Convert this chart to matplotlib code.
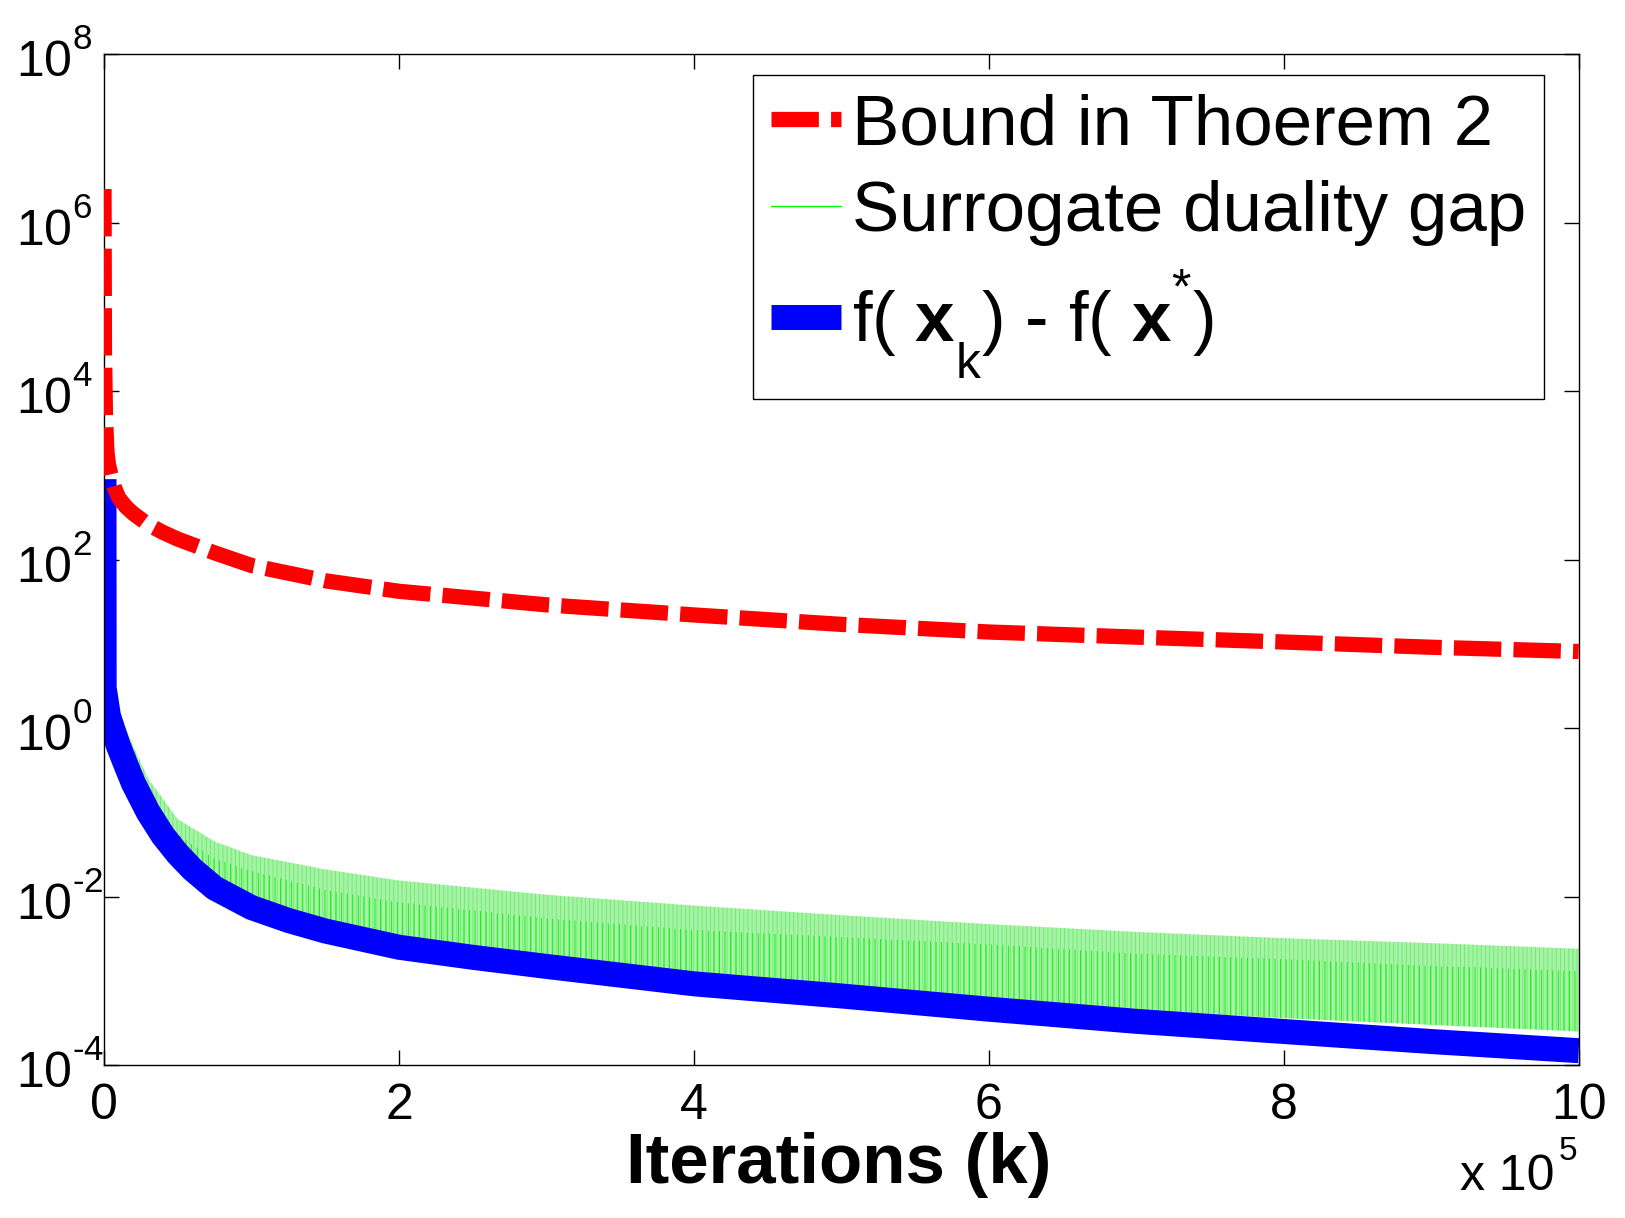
import matplotlib
matplotlib.use("Agg")
import matplotlib.pyplot as plt
from matplotlib.lines import Line2D
from matplotlib.ticker import FixedLocator, FixedFormatter

plt.rcParams['font.family'] = ['Liberation Sans', 'DejaVu Sans']
plt.rcParams['mathtext.fontset'] = 'custom'
plt.rcParams['mathtext.rm'] = 'Liberation Sans'
plt.rcParams['mathtext.it'] = 'Liberation Sans'
plt.rcParams['mathtext.bf'] = 'Liberation Sans:bold'
plt.rcParams['hatch.linewidth'] = 0.6

# Matlab-like sub/superscript offsets (higher exponents, lower subscripts)
try:
    from matplotlib import _mathtext
    _mathtext.FontConstantsBase.sup1 = 1.0
    _mathtext.FontConstantsBase.sub1 = 1.0
except Exception:
    pass

# iterations in units of 1e5
bound_x = [0, 0.003, 0.01, 0.02, 0.03, 0.05, 0.07, 0.1, 0.15, 0.2, 0.3, 0.4, 0.5, 0.75, 1, 1.5,
           2, 3, 4, 5, 6, 7, 8, 9, 10]
bound_y = [2.5e6, 3e4, 5e3, 1.9e3, 1.35e3, 9.5e2, 7.2e2, 5.4e2, 4.2e2, 3.5e2, 2.6e2, 2.1e2,
           1.75e2, 1.2e2, 85, 56, 42, 29, 22, 17, 13.8, 12, 10.5, 9.1, 8.1]

gap_x = [0, 0.002, 0.05, 0.1, 0.2, 0.3, 0.5, 0.75, 1, 1.5, 2, 3, 4, 5, 6, 7, 8, 9, 10]
gap_upper = [2e3, 4, 2.5, 1.6, 0.6, 0.25, 0.083, 0.045, 0.031, 0.021, 0.0155, 0.0105, 0.0078,
             0.006, 0.0047, 0.0038, 0.0032, 0.0028, 0.0024]
gap_core = [1.5e3, 3, 1.8, 1.0, 0.35, 0.15, 0.054, 0.028, 0.02, 0.012, 0.0085, 0.0055, 0.004,
            0.0033, 0.0027, 0.0021, 0.0018, 0.0015, 0.0013]
gap_lower = [9e2, 2, 1.2, 0.6, 0.22, 0.1, 0.032, 0.0126, 0.0078, 0.0042, 0.0028, 0.0017, 0.0011,
             0.00078, 0.00058, 0.00045, 0.00036, 0.0003, 0.00025]

fx_x = [0, 0.001, 0.03, 0.07, 0.1, 0.15, 0.2, 0.3, 0.4, 0.5, 0.6, 0.75, 1, 1.25, 1.5, 2, 2.5,
        3, 4, 5, 6, 7, 8, 9, 10]
fx_y = [9e2, 3, 1.4, 0.85, 0.6, 0.36, 0.22, 0.1, 0.053, 0.032, 0.021, 0.0126, 0.0074, 0.0052,
        0.0039, 0.0025, 0.0019, 0.00148, 0.00092, 0.00066, 0.00046, 0.00033, 0.00025, 0.00019,
        0.000148]

ytick_vals = [1e-4, 1e-2, 1e0, 1e2, 1e4, 1e6, 1e8]
ytick_labels = [r'$\mathregular{10^{\text{-}4}}$', r'$\mathregular{10^{\text{-}2}}$',
                r'$\mathregular{10^{0}}$', r'$\mathregular{10^{2}}$', r'$\mathregular{10^{4}}$',
                r'$\mathregular{10^{6}}$', r'$\mathregular{10^{8}}$']
xtick_vals = [0, 2, 4, 6, 8, 10]
xtick_labels = ['0', '2', '4', '6', '8', '10']

fig = plt.figure(figsize=(16.25, 12.18), dpi=100)
ax = fig.add_axes([0.064, 0.1256, 0.9075, 0.830])
ax.set_yscale('log')

ax.fill_between(gap_x, gap_lower, gap_upper, facecolor='#a8f2a8', edgecolor='#66ee66',
                hatch='||||', linewidth=0, zorder=1)
ax.fill_between(gap_x, gap_lower, gap_core, facecolor='none', edgecolor='#00f000',
                hatch='|||', linewidth=0, zorder=1.5)
ax.plot(fx_x, fx_y, color='#0000ff', lw=18, solid_capstyle='butt', zorder=2)
ax.plot(bound_x, bound_y, color='#ff0000', lw=11, dashes=(3.1, 0.8), dash_capstyle='butt',
        zorder=3)

ax.set_xlim(0, 10)
ax.set_ylim(1e-4, 1e8)
ax.yaxis.set_major_locator(FixedLocator(ytick_vals))
ax.yaxis.set_major_formatter(FixedFormatter(ytick_labels))
ax.yaxis.set_minor_locator(FixedLocator([]))
ax.set_xticks(xtick_vals)
ax.set_xticklabels(xtick_labels)
ax.tick_params(direction='in', length=11, width=1, top=True, right=True, labelsize=36)
ax.tick_params(axis='y', pad=63)
ax.tick_params(axis='x', pad=13)
for lab in ax.get_yticklabels():
    lab.set_horizontalalignment('left')
for s in ax.spines.values():
    s.set_linewidth(1)

ax.set_xlabel('Iterations (k)', fontsize=51, fontweight='bold')
ax.xaxis.set_label_coords(0.4985, -0.066)
ax.text(0.9835, -0.124, 'x 10', transform=ax.transAxes,
        ha='right', va='baseline', fontsize=36)
ax.text(0.9865, -0.0935, '5', transform=ax.transAxes,
        ha='left', va='baseline', fontsize=24)

handles = [Line2D([], [], color='#ff0000', lw=11, dashes=(3.1, 0.8), dash_capstyle='butt'),
           Line2D([], [], color='#00ff00', lw=1),
           Line2D([], [], color='#0000ff', lw=18, solid_capstyle='butt')]
labels = ['Bound in Thoerem 2', 'Surrogate duality gap',
          r'f( $\mathbf{x}_{\mathregular{k}}$) - f( $\mathbf{x}^{*}$)']
leg = ax.legend(handles, labels, loc='upper left', bbox_to_anchor=(0.440, 0.979),
                borderaxespad=0, fontsize=51, handlelength=1.0, handletextpad=0.15,
                borderpad=0.25, labelspacing=0.3, fancybox=False, framealpha=1,
                edgecolor='black')
leg.get_frame().set_linewidth(1)

plt.savefig('out.png', dpi=100)
